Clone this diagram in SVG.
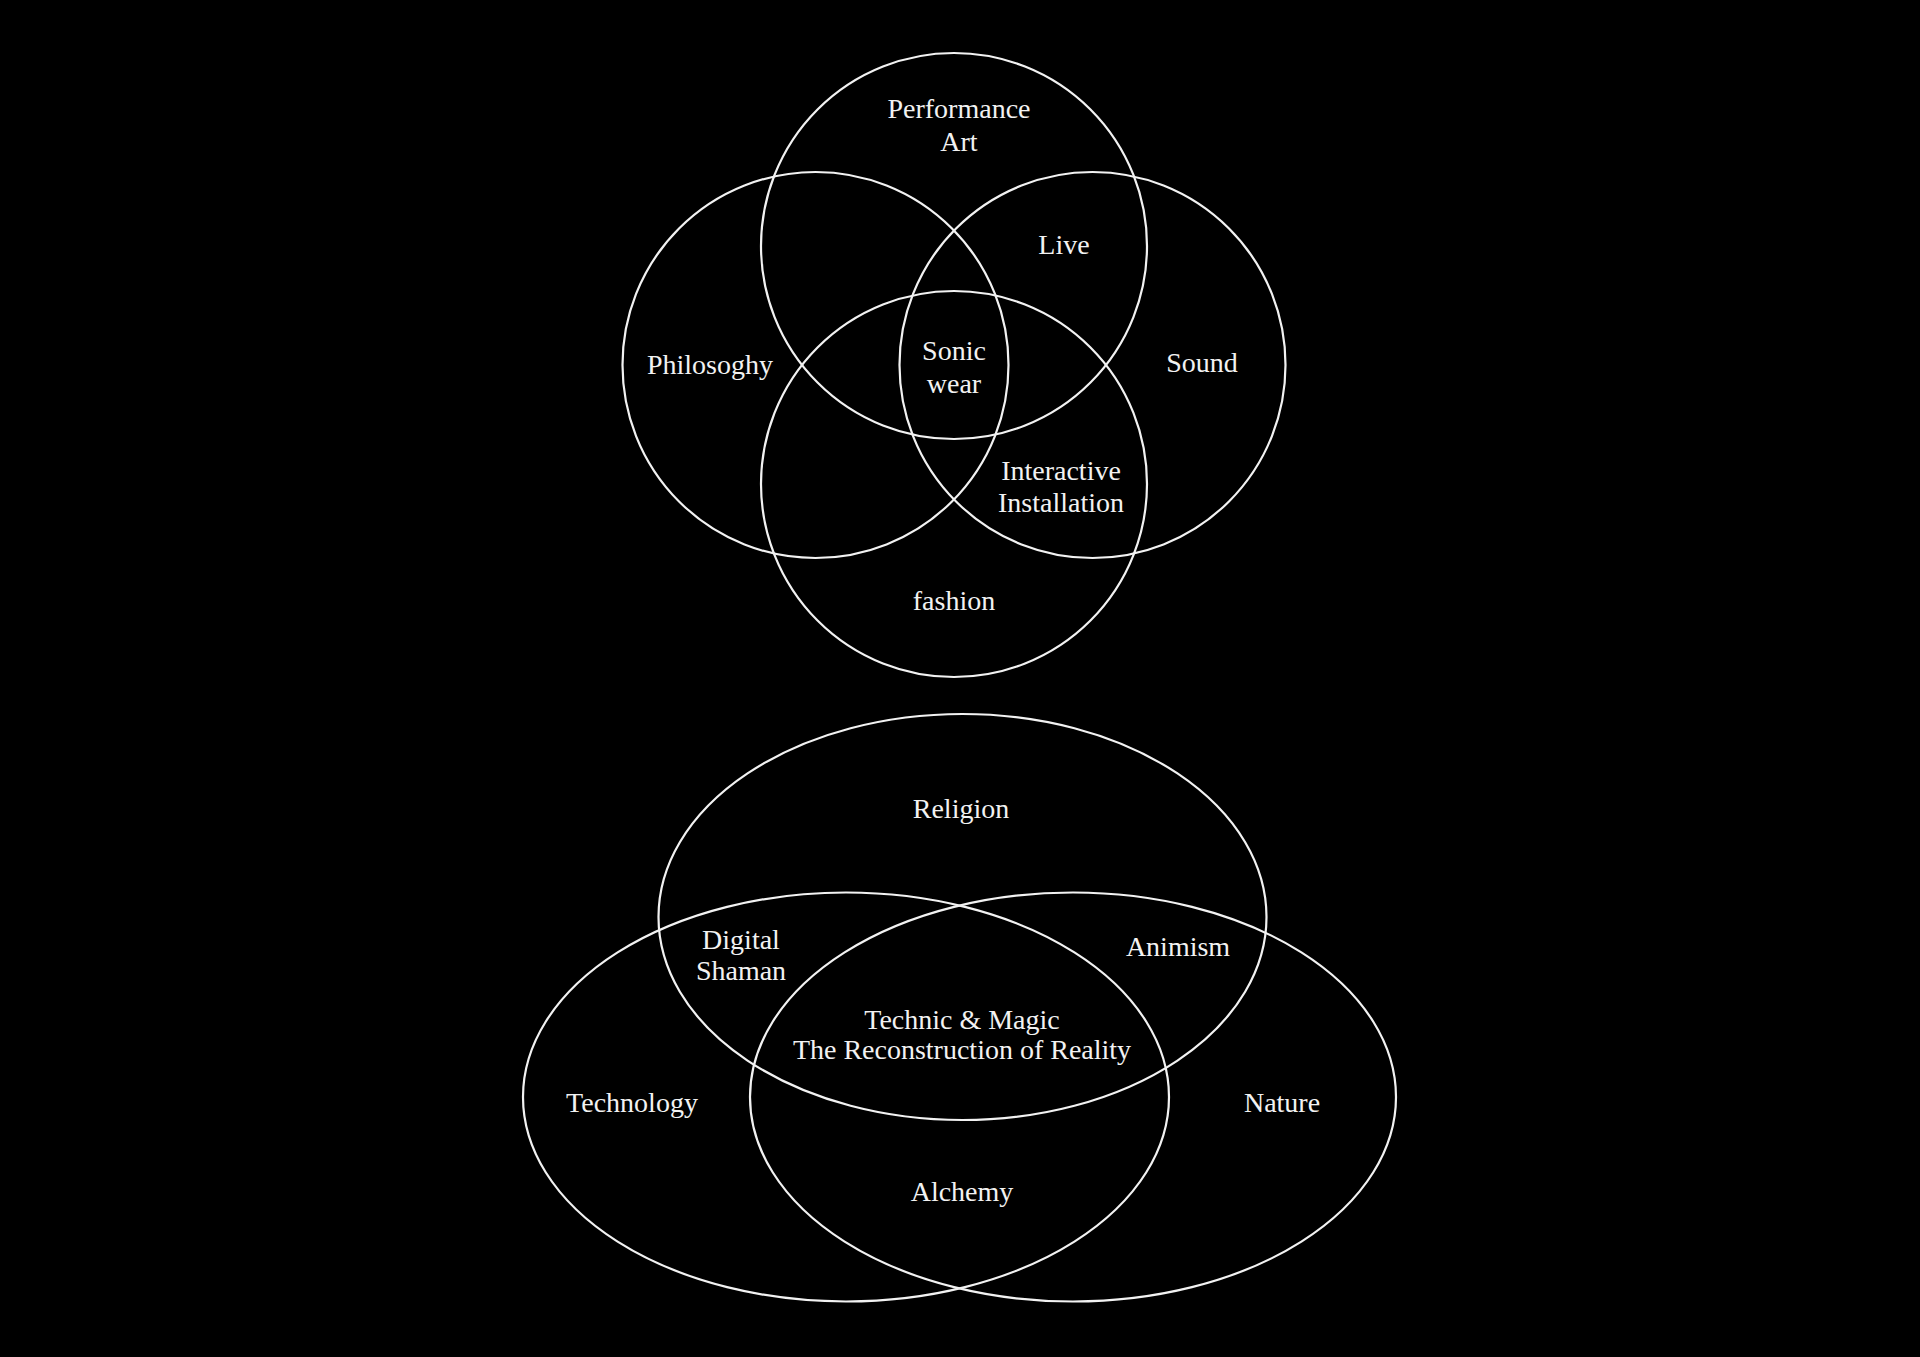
<svg xmlns="http://www.w3.org/2000/svg" width="1920" height="1357" viewBox="0 0 1920 1357">
<style>
.s{fill:none;stroke:#f2f2f2;stroke-width:2.2}
text{fill:#f2f2f2;font-family:"Liberation Serif","DejaVu Serif",serif;font-size:28px;text-anchor:middle;dominant-baseline:central}
</style>
<rect width="1920" height="1357" fill="#000"/>
<g id="top">
<g id="performance"><circle class="s" cx="954" cy="246" r="193"/><text x="959" y="108">Performance</text><text x="959" y="141">Art</text></g>
<g id="philosophy"><circle class="s" cx="815.5" cy="365" r="193"/><text x="710" y="364">Philosoghy</text></g>
<g id="sound"><circle class="s" cx="1092.5" cy="365" r="193"/><text x="1202" y="362">Sound</text></g>
<g id="fashion"><circle class="s" cx="954" cy="484" r="193"/><text x="954" y="600">fashion</text></g>
<g id="live"><text x="1064" y="244">Live</text></g>
<g id="sonic"><text x="954" y="350">Sonic</text><text x="954" y="383">wear</text></g>
<g id="interactive"><text x="1061" y="470">Interactive</text><text x="1061" y="502">Installation</text></g>
</g>
<g id="bottom">
<g id="religion"><ellipse class="s" cx="962.5" cy="917" rx="304" ry="203"/><text x="961" y="808">Religion</text></g>
<g id="technology"><ellipse class="s" cx="846" cy="1097" rx="323" ry="204.5"/><text x="632" y="1102">Technology</text></g>
<g id="nature"><ellipse class="s" cx="1073" cy="1097" rx="323" ry="204.5"/><text x="1282" y="1102">Nature</text></g>
<g id="shaman"><text x="741" y="939">Digital</text><text x="741" y="970">Shaman</text></g>
<g id="animism"><text x="1178" y="946">Animism</text></g>
<g id="center"><text x="962" y="1019">Technic &amp; Magic</text><text x="962" y="1049">The Reconstruction of Reality</text></g>
<g id="alchemy"><text x="962" y="1191">Alchemy</text></g>
</g>
<g id="connectors"></g>
</svg>
